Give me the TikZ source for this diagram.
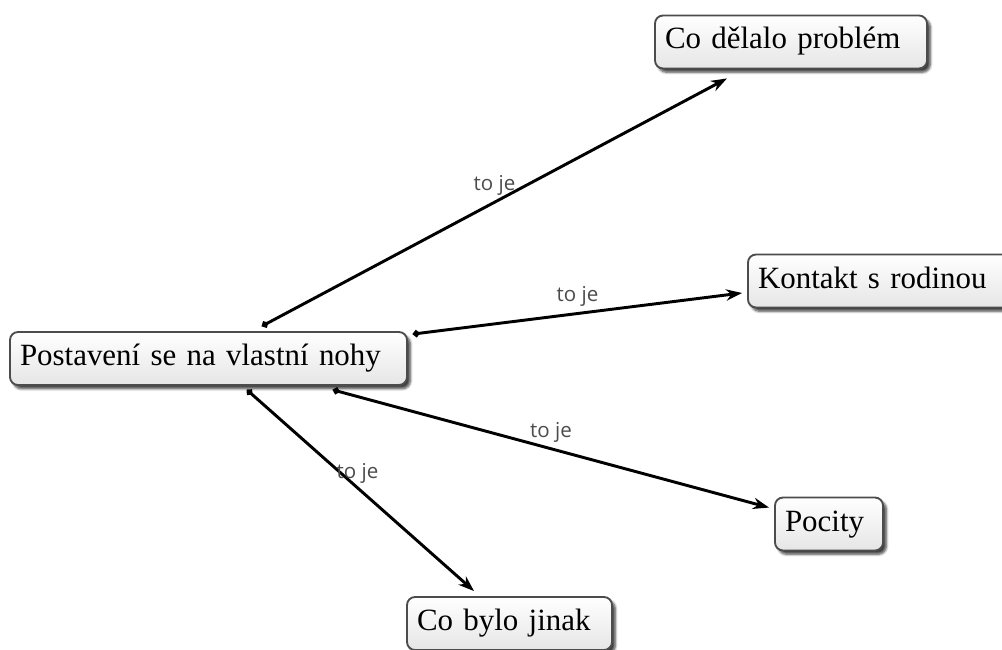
\documentclass[tikz,border=0pt]{standalone}
\usepackage{fontspec}
\setmainfont{Liberation Serif}
\newfontfamily\labelfont{Open Sans}
\usetikzlibrary{arrows.meta, shadows.blur}

\begin{document}
\begin{tikzpicture}[x=0.75pt, y=-0.75pt,
    topic/.style={rectangle, rounded corners=6pt, draw=black!70, line width=1.4pt,
        top color=white, bottom color=black!10, align=left, inner xsep=7.5pt,
        minimum height=39.75pt, text height=16.3pt, text depth=5.8pt,
        font=\fontsize{23.2}{28}\selectfont,
        blur shadow={shadow xshift=2.5pt, shadow yshift=-2.8pt, shadow blur steps=6, shadow opacity=75}},
    link/.style={line width=2.2pt, {Circle[length=5pt]}-{Stealth[length=12pt, width=8.5pt]}},
    lbl/.style={font=\labelfont\fontsize{15.4}{18}\selectfont, text=black!70, inner sep=0pt}]
    \useasboundingbox (0,0) rectangle (1002,649);

    \node[topic, text width=282.75pt] (main) at (208.5,358.5) {Postavení se na vlastní nohy};
    \node[topic, text width=189pt] (problem) at (791,42) {Co dělalo problém};
    \node[topic, text width=189pt] (rodina) at (884,281) {Kontakt s rodinou};
    \node[topic, text width=66pt] (pocity) at (829,524) {Pocity};
    \node[topic, text width=138.75pt] (jinak) at (509.5,623.5) {Co bylo jinak};

    \draw[link] ([shift={(53.5,-5)}]main.north) -- ([shift={(-64,9)}]problem.south)
        node[lbl, midway, yshift=12.5pt] {to je};
    \draw[link] ([shift={(5,3)}]main.north east) -- ([shift={(-5,12)}]rodina.west)
        node[lbl, midway, yshift=12.5pt] {to je};
    \draw[link] ([shift={(124.5,4)}]main.south) -- ([shift={(-5,11)}]pocity.north west)
        node[lbl, midway, yshift=12.5pt] {to je};
    \draw[link] ([shift={(38.5,4)}]main.south) -- ([shift={(68,-5)}]jinak.north west)
        node[lbl, midway, xshift=-2.25pt, yshift=12.5pt] {to je};
\end{tikzpicture}
\end{document}
